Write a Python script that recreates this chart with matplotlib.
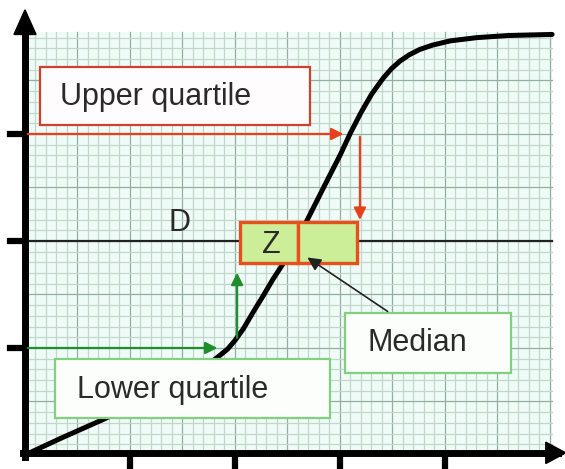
import matplotlib
matplotlib.use("Agg")
import matplotlib.pyplot as plt
from matplotlib.patches import Rectangle, Polygon

plt.rcParams['font.family'] = ['Liberation Sans', 'DejaVu Sans']

# cumulative frequency curve (axis units)
curve_x = [0.0, 0.35, 0.74, 1.0, 1.3, 1.55, 1.72, 1.83, 1.93, 2.0, 2.08, 2.17,
           2.27, 2.36, 2.46, 2.58, 2.69, 2.88, 3.0, 3.10, 3.2, 3.3, 3.41, 3.49,
           3.57, 3.66, 3.76, 3.88, 4.05, 4.3, 4.6, 5.02]
curve_y = [0.0, 0.16, 0.33, 0.45, 0.59, 0.72, 0.83, 0.91, 0.99, 1.07, 1.18, 1.33,
           1.49, 1.64, 1.79, 1.99, 2.2, 2.57, 2.8, 3.01, 3.2, 3.37, 3.52, 3.61,
           3.68, 3.74, 3.79, 3.83, 3.87, 3.9, 3.92, 3.93]

x_ticks = [1, 2, 3, 4]
y_ticks = [1, 2, 3]

lower_q = (1.88, 1.0)
median = (2.6, 2.0)
upper_q = (3.10, 3.0)

labels = ["Upper quartile", "Lower quartile", "Median", "Z", "D"]

grid_right, grid_top = 5.02, 3.95

fig = plt.figure(figsize=(5.65, 4.69), dpi=100)
ax = fig.add_axes([0, 0, 1, 1])
ax.set_xlim(-0.238, 5.143)
ax.set_ylim(-0.131, 4.252)
ax.axis('off')

# graph paper
ax.add_patch(Rectangle((0, 0), grid_right, grid_top, facecolor='#effbf7',
                       edgecolor='none', zorder=0))
for k in range(1, 51):
    c = '#94afa2' if k % 5 == 0 else '#c2d6cc'
    ax.plot([k / 10, k / 10], [0, grid_top], color=c, lw=0.9, zorder=1)
for k in range(1, 40):
    c = '#94afa2' if k % 5 == 0 else '#c2d6cc'
    ax.plot([0, grid_right], [k / 10, k / 10], color=c, lw=0.9, zorder=1)

# horizontal line D at the median height
ax.plot([0, grid_right], [median[1], median[1]], color='#222222', lw=1.6, zorder=2)

# curve
ax.plot(curve_x, curve_y, color='black', lw=3.6, solid_capstyle='round',
        solid_joinstyle='round', zorder=5)

# axes with arrows
ax.plot([0, 0], [-0.02, 4.05], color='black', lw=5, zorder=6)
ax.plot([-0.02, 5.08], [0.02, 0.02], color='black', lw=5, zorder=6)
ax.add_patch(Polygon([[-0.105, 3.93], [0.105, 3.93], [0, 4.16]],
                     closed=True, color='black', zorder=6))
ax.add_patch(Polygon([[4.96, 0.12], [4.96, -0.08], [5.15, 0.02]],
                     closed=True, color='black', zorder=6))
for t in x_ticks:
    ax.plot([t, t], [0, -0.14], color='black', lw=4.5, zorder=6)
for t in y_ticks:
    ax.plot([-0.14, 0], [t, t], color='black', lw=4.5, zorder=6)

# upper quartile arrows (red)
red = '#e8401c'
ax.annotate('', xy=(upper_q[0] - 0.04, upper_q[1]), xytext=(0, upper_q[1]),
            arrowprops=dict(arrowstyle='-|>', color=red, lw=1.6,
                            mutation_scale=18), zorder=7)
ax.annotate('', xy=(3.19, 2.17), xytext=(3.19, upper_q[1]),
            arrowprops=dict(arrowstyle='-|>', color=red, lw=1.6,
                            mutation_scale=18), zorder=7)

# lower quartile arrows (green)
green = '#1f8f2c'
ax.annotate('', xy=(lower_q[0] - 0.02, lower_q[1]), xytext=(0, lower_q[1]),
            arrowprops=dict(arrowstyle='-|>', color=green, lw=1.6,
                            mutation_scale=18), zorder=7)
ax.annotate('', xy=(2.02, 1.73), xytext=(2.02, 1.07),
            arrowprops=dict(arrowstyle='-|>', color=green, lw=1.6,
                            mutation_scale=18), zorder=7)

# label boxes
ax.add_patch(Rectangle((0.143, 3.084), 2.57, 0.54, facecolor='#fefcfc',
                       edgecolor='#d0402c', lw=1.6, zorder=8))
ax.text(0.33, 3.35, labels[0], fontsize=22, color='#2a2a2a',
        va='center', ha='left', zorder=9)

ax.add_patch(Rectangle((0.286, 0.346), 2.62, 0.55, facecolor='#fbfefb',
                       edgecolor='#80d080', lw=1.6, zorder=8))
ax.text(0.5, 0.61, labels[1], fontsize=22, color='#2a2a2a',
        va='center', ha='left', zorder=9)

ax.add_patch(Rectangle((3.048, 0.766), 1.58, 0.56, facecolor='#fbfefb',
                       edgecolor='#80d080', lw=1.6, zorder=8))
ax.text(3.26, 1.05, labels[2], fontsize=22, color='#2a2a2a',
        va='center', ha='left', zorder=9)

# Z box split at the median
ax.add_patch(Rectangle((2.048, 1.794), median[0] - 2.048, 0.384,
                       facecolor='#ccee99', edgecolor='#e8501a', lw=2.4, zorder=8))
ax.add_patch(Rectangle((median[0], 1.794), 3.162 - median[0], 0.384,
                       facecolor='#ccee99', edgecolor='#e8501a', lw=2.4, zorder=8))
ax.text(2.35, 1.96, labels[3], fontsize=22, color='#2a2a2a',
        va='center', ha='center', zorder=9)
ax.text(1.476, 2.17, labels[4], fontsize=22, color='#2a2a2a',
        va='center', ha='center', zorder=9)

# median pointer
ax.annotate('', xy=(2.667, 1.86), xytext=(3.476, 1.327),
            arrowprops=dict(arrowstyle='-|>', color='#222222', lw=1.2,
                            mutation_scale=20), zorder=10)

fig.savefig('out.png', dpi=100, facecolor='white')
